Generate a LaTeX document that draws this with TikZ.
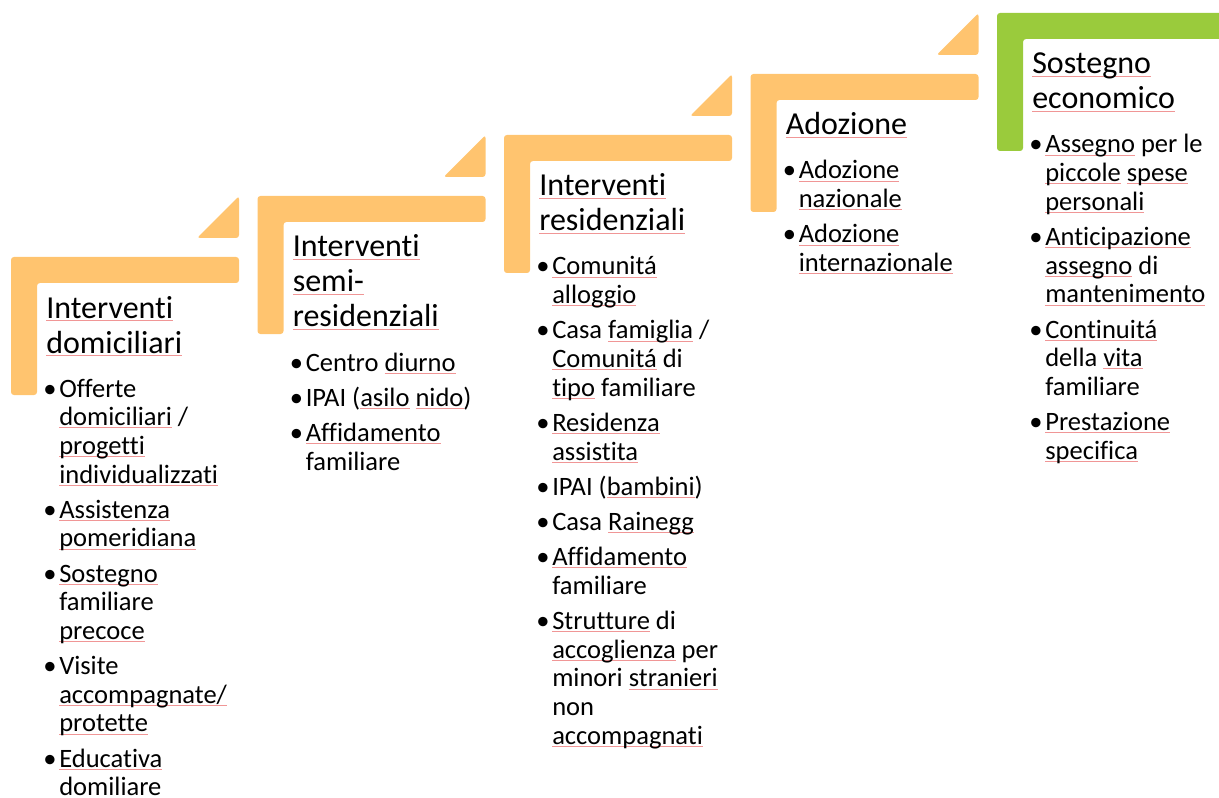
\documentclass[tikz,border=0pt]{standalone}
\usepackage{fontspec}
\setmainfont{Carlito}[Ligatures=NoCommon]

\definecolor{stepgold}{HTML}{FFC46F}
\definecolor{stepgreen}{HTML}{9ACB3C}
\definecolor{spell}{RGB}{240,150,150}

% word with a thin proofing underline
\newcommand\sq[1]{\leavevmode\setbox0\hbox{#1}\rlap{\textcolor{spell}{\rule[-2pt]{\wd0}{0.7pt}}}\box0\relax}
% hanging bullet
\newcommand\bu{\leavevmode\llap{•\hspace{2pt}}}
\newlength\isep
\setlength\isep{4.9pt}
% title block and bullet block, first baseline at the node's base
\newcommand\ttltext[1]{\begin{minipage}[t]{300pt}\fontsize{24}{26.25}\selectfont\raggedright #1\end{minipage}}
\newcommand\lsttext[1]{\begin{minipage}[t]{300pt}\fontsize{19.9}{21.5}\selectfont\raggedright #1\end{minipage}}

\begin{document}
\begin{tikzpicture}[x=0.75pt,y=-0.75pt,
  txt/.style={inner sep=0pt, anchor=base west},
  bracket/.style={rounded corners=2.2}]
\useasboundingbox (0,0) rectangle (1219,798);
\clip (0,0) rectangle (1219,798);

% orange steps: L-bracket plus corner triangle
\foreach \i in {0,...,3} {
  \pgfmathsetmacro\X{11+246.5*\i}
  \pgfmathsetmacro\T{257-61*\i}
  \fill[stepgold, bracket] (\X,\T) -- ++(228,0) -- ++(0,26) -- ++(-202,0)
        -- ++(0,112) -- ++(-26,0) -- cycle;
  \fill[stepgold, bracket] (\X+186,\T-19) -- ++(42,0) -- ++(0,-42) -- cycle;
}
% green top step
\fill[stepgreen, bracket] (997,13) -- ++(228,0) -- ++(0,26) -- ++(-202,0)
      -- ++(0,112) -- ++(-26,0) -- cycle;

% step 1
\node[txt] (t1) at (46,318) {\ttltext{\sq{Interventi}\\\sq{domiciliari}}};
\node[txt] (l1) at (59,397) {\lsttext{%
\bu Offerte\\
\sq{domiciliari} /\\
\sq{progetti}\\
\sq{individualizzati}\\[\isep]
\bu\sq{Assistenza}\\
\sq{pomeridiana}\\[\isep]
\bu\sq{Sostegno}\\
familiare\\
\sq{precoce}\\[\isep]
\bu Visite\\
\sq{accompagnate/}\\
\sq{protette}\\[\isep]
\bu\sq{Educativa}\\
\sq{domiliare}}};

% step 2
\node[txt] (t2) at (292.5,257) {\ttltext{\sq{Interventi}\\\sq{semi-}\\\sq{residenziali}}};
\node[txt] (l2) at (305.5,371) {\lsttext{%
\bu Centro \sq{diurno}\\[\isep]
\bu IPAI (\sq{asilo} \sq{nido})\\[\isep]
\bu\sq{Affidamento}\\
familiare}};

% step 3
\node[txt] (t3) at (539,196) {\ttltext{\sq{Interventi}\\\sq{residenziali}}};
\node[txt] (l3) at (552,275) {\lsttext{%
\bu\sq{Comunitá}\\
\sq{alloggio}\\[\isep]
\bu Casa \sq{famiglia} /\\
\sq{Comunitá} di\\
\sq{tipo} familiare\\[\isep]
\bu\sq{Residenza}\\
\sq{assistita}\\[\isep]
\bu IPAI (\sq{bambini})\\[\isep]
\bu Casa \sq{Rainegg}\\[\isep]
\bu\sq{Affidamento}\\
familiare\\[\isep]
\bu\sq{Strutture} di\\
\sq{accoglienza} per\\
minori \sq{stranieri}\\
non\\
\sq{accompagnati}}};

% step 4
\node[txt] (t4) at (785.5,135) {\ttltext{\sq{Adozione}}};
\node[txt] (l4) at (798.5,179) {\lsttext{%
\bu\sq{Adozione}\\
\sq{nazionale}\\[\isep]
\bu\sq{Adozione}\\
\sq{internazionale}}};

% step 5
\node[txt] (t5) at (1032,74) {\ttltext{\sq{Sostegno}\\\sq{economico}}};
\node[txt] (l5) at (1045,153) {\lsttext{%
\bu\sq{Assegno} per le\\
\sq{piccole} \sq{spese}\\
\sq{personali}\\[\isep]
\bu\sq{Anticipazione}\\
\sq{assegno} di\\
\sq{mantenimento}\\[\isep]
\bu\sq{Continuitá}\\
della \sq{vita}\\
familiare\\[\isep]
\bu\sq{Prestazione}\\
\sq{specifica}}};
\end{tikzpicture}
\end{document}
